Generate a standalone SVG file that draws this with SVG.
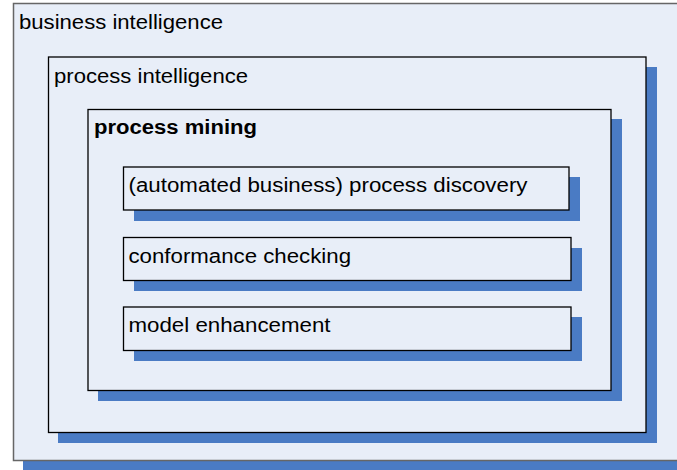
<svg xmlns="http://www.w3.org/2000/svg" width="677" height="470" viewBox="0 0 677 470">
  <style>
    .shadow { fill: #4A7BC4; }
    .box { fill: #E8EEF8; stroke: #000; stroke-width: 1.3; }
    .outer { fill: #E8EEF8; stroke: #666; stroke-width: 1.5; }
    .lbl { font-family: "Liberation Sans", Arial, sans-serif; font-size: 19.5px; fill: #000; }
    .bold { font-weight: bold; }
  </style>
  <rect width="677" height="470" fill="#ffffff"/>
  <g id="business-intelligence">
    <rect class="shadow" x="23" y="13" width="680" height="457"/>
    <rect class="outer" x="13.5" y="3.5" width="680" height="457"/>
    <text class="lbl" x="19" y="29" textLength="204" lengthAdjust="spacingAndGlyphs">business intelligence</text>
  </g>
  <g id="process-intelligence">
    <rect class="shadow" x="58" y="67" width="599" height="376"/>
    <rect class="box" x="48.5" y="57" width="597.5" height="375.5"/>
    <text class="lbl" x="54" y="82.5" textLength="194" lengthAdjust="spacingAndGlyphs">process intelligence</text>
  </g>
  <g id="process-mining">
    <rect class="shadow" x="98" y="119" width="524" height="282"/>
    <rect class="box" x="88" y="109.5" width="523" height="281"/>
    <text class="lbl bold" x="94" y="134" textLength="163" lengthAdjust="spacingAndGlyphs">process mining</text>
  </g>
  <g id="process-discovery">
    <rect class="shadow" x="134" y="177" width="446" height="44"/>
    <rect class="box" x="123.5" y="167" width="445.5" height="43"/>
    <text class="lbl" x="128.5" y="191.5" textLength="399" lengthAdjust="spacingAndGlyphs">(automated business) process discovery</text>
  </g>
  <g id="conformance-checking">
    <rect class="shadow" x="134" y="248" width="448" height="43"/>
    <rect class="box" x="123.5" y="237.5" width="447.5" height="43"/>
    <text class="lbl" x="128.5" y="263" textLength="222.5" lengthAdjust="spacingAndGlyphs">conformance checking</text>
  </g>
  <g id="model-enhancement">
    <rect class="shadow" x="134" y="317" width="448" height="44"/>
    <rect class="box" x="123.5" y="307" width="447.5" height="43.5"/>
    <text class="lbl" x="128.5" y="332" textLength="202" lengthAdjust="spacingAndGlyphs">model enhancement</text>
  </g>
  <g id="connectors"></g>
</svg>
